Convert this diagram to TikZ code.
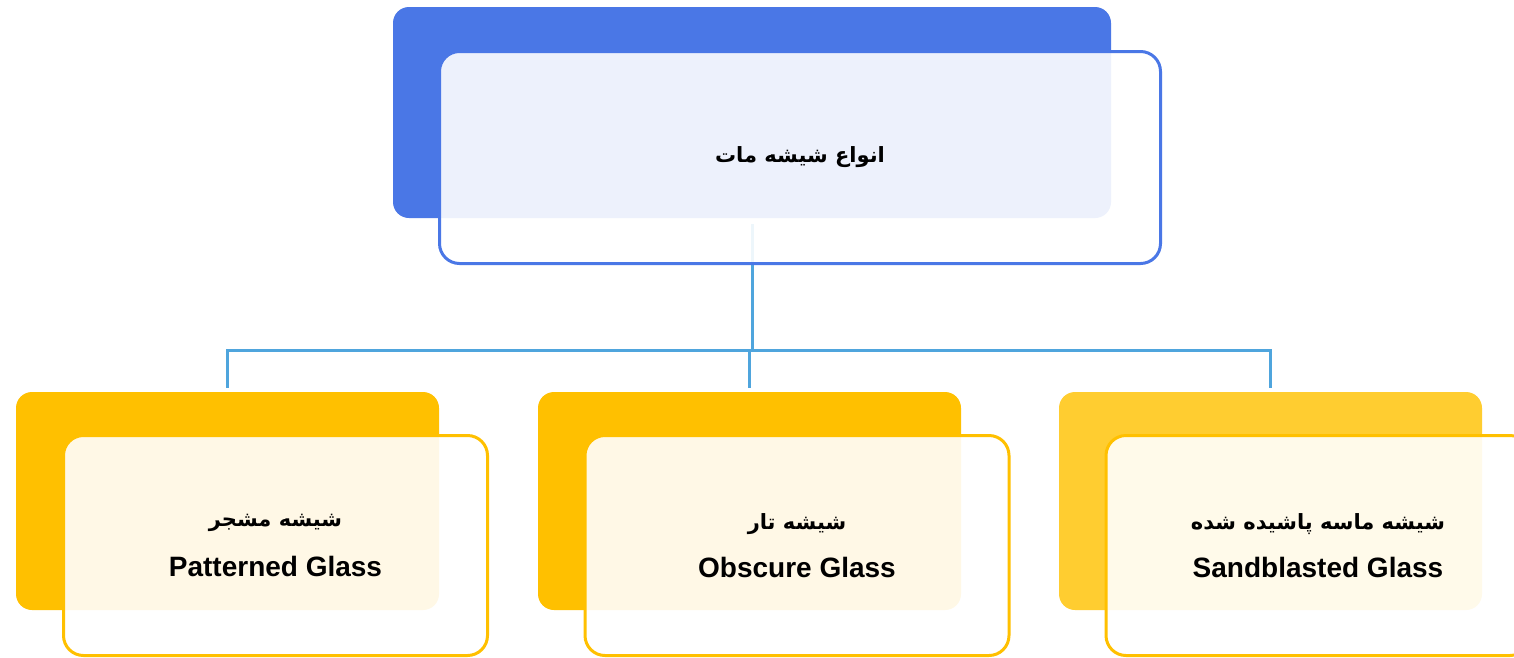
\documentclass[tikz,border=0pt]{standalone}
\usepackage{fontspec}
\TeXXeTstate=1
\newfontfamily\arabicfont[Script=Arabic]{DejaVu Sans}
\newfontfamily\latinfont{Liberation Sans}
\definecolor{topblue}{HTML}{4A77E6}
\definecolor{linkblue}{HTML}{4FA5DD}
\definecolor{gold}{HTML}{FFC000}
\definecolor{lightgold}{HTML}{FFCD30}
\tikzset{
  backbox/.style={rounded corners=16pt, minimum width=423pt, minimum height=218pt, inner sep=0pt, draw=none},
  frontbox/.style={rounded corners=20pt, line width=3pt, fill=white, fill opacity=0.9, text opacity=1,
    align=center, minimum width=424pt, minimum height=220pt, inner sep=0pt},
  link/.style={draw=linkblue, line width=3pt},
}
\newcommand{\ar}[1]{{\arabicfont\bfseries\fontsize{21}{25}\selectfont\beginR #1\endR}}
\newcommand{\la}[1]{{\latinfont\bfseries\fontsize{28}{32}\selectfont #1}}
\begin{document}
\begin{tikzpicture}[x=1pt,y=-1pt]
\clip (0,0) rectangle (1514,657);
\fill[white] (0,0) rectangle (1514,657);
% back boxes
\node[backbox, fill=topblue, minimum width=718pt, minimum height=211pt] (topback) at (752,112.5) {};
\node[backbox, fill=gold] (b1) at (227.5,501) {};
\node[backbox, fill=gold] (b2) at (749.5,501) {};
\node[backbox, fill=lightgold] (b3) at (1270.5,501) {};
% connectors
\coordinate (j) at (752,350);
\draw[link, shorten <=6pt] (topback.south) -- (j);
\draw[link, shorten <=4pt, shorten >=4pt] (b1.north) -- (b1.north |- j) -- (b3.north |- j) -- (b3.north);
\draw[link, shorten <=4pt] (b2.north) -- (b2.north |- j);
% front boxes
\node[frontbox, draw=topblue, minimum width=721pt, minimum height=212pt] (top) at (800,157.5)
  {\ar{انواع شیشه مات}};
\node[frontbox, draw=gold] (f1) at (275.5,545.5)
  {\ar{شیشه مشجر}\\[24pt]\la{Patterned Glass}};
\node[frontbox, draw=gold] (f2) at (797,545.5)
  {\ar{شیشه تار}\\[22pt]\la{Obscure Glass}};
\node[frontbox, draw=gold] (f3) at (1318,545.5)
  {\ar{شیشه ماسه پاشیده شده}\\[22pt]\la{Sandblasted Glass}};
\end{tikzpicture}
\end{document}
